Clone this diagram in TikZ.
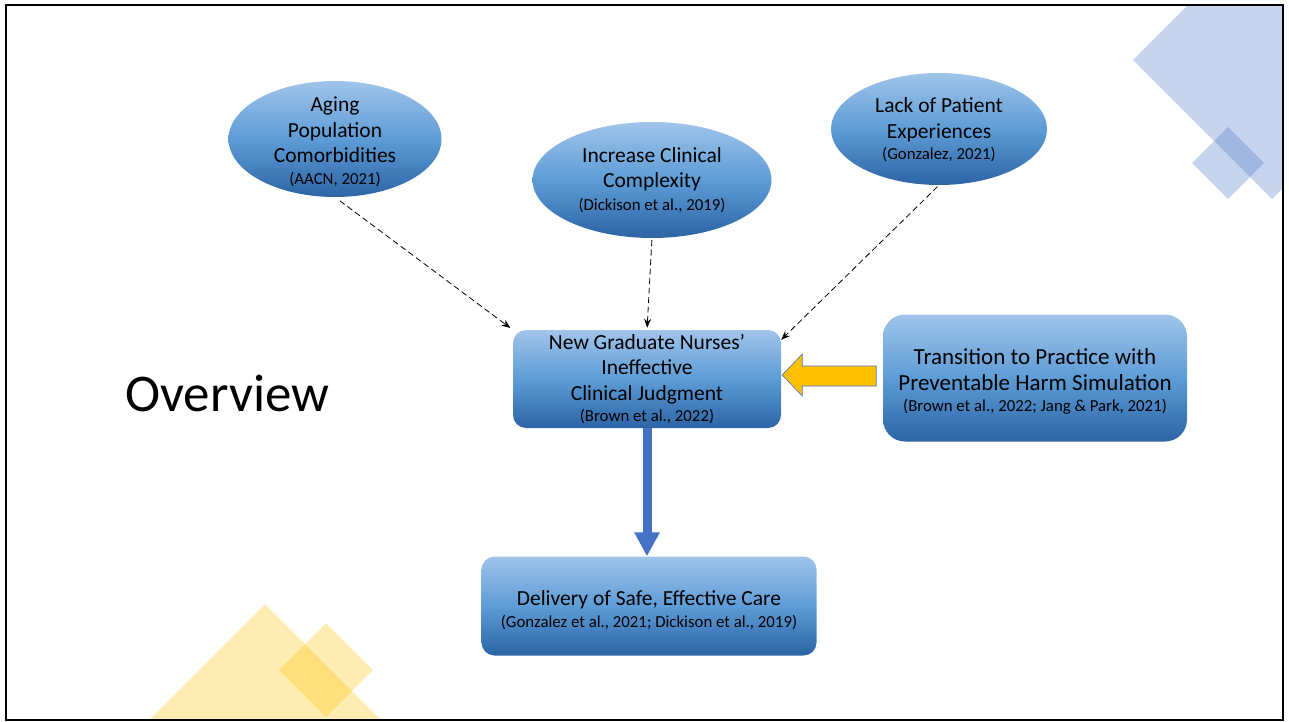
\documentclass[tikz,border=0pt]{standalone}
\usepackage{fontspec}
\setmainfont{Carlito}
\usetikzlibrary{shapes.geometric,arrows.meta,calc}

\definecolor{boxtop}{RGB}{160,196,234}
\definecolor{boxmid}{RGB}{93,156,214}
\definecolor{boxbot}{RGB}{44,100,165}
\definecolor{accblue}{RGB}{68,114,196}
\definecolor{accgold}{RGB}{255,192,0}
\newcommand{\cit}[1]{{\fontsize{16.8}{18}\selectfont #1}}

\begin{document}
\begin{tikzpicture}[x=1pt,y=-1pt,
    grad/.style={top color=boxtop,bottom color=boxbot,middle color=boxmid},
    bubble/.style={grad,ellipse,inner sep=0pt},
    card/.style={grad,inner sep=0pt,rounded corners=#1},
    card/.default=13pt,
    txt/.style={align=center,font=\fontsize{21.5}{25.5}\selectfont},
    cause/.style={dash pattern=on 6pt off 3.5pt,line width=0.8pt,-{Stealth[length=9pt,width=7pt]}},
  ]
\useasboundingbox (0,0) rectangle (1289,722);

\begin{scope}
  \clip (6,5) rectangle (1283,720);
  \fill[accblue,opacity=0.3] (1133,60) -- (1272,-79) -- (1411,60) -- (1272,199) -- cycle;
  \fill[accblue,opacity=0.3] (1192,163) -- (1228,127) -- (1264,163) -- (1228,199) -- cycle;
  \fill[accgold,opacity=0.3] (149,720) -- (265,604) -- (381,720) -- (265,836) -- cycle;
  \fill[accgold,opacity=0.3] (279,670) -- (326,623) -- (373,670) -- (326,717) -- cycle;
\end{scope}
\draw[line width=2.5pt] (6,5) rectangle (1283,720);

\node[font=\fontsize{53}{60}\selectfont,anchor=west,inner sep=0pt] (title) at (125,393) {Overview};

\node[bubble,minimum width=213pt,minimum height=116pt,
  label={[txt,yshift=-3pt]center:{Aging\\Population\\Comorbidities\\[-4pt]\cit{(AACN, 2021)}}}] (aging) at (335,139) {};
\node[bubble,minimum width=239pt,minimum height=116pt,
  label={[txt]center:{Increase Clinical\\Complexity\\[-3pt]\cit{(Dickison et al., 2019)}}}] (incr) at (652,180) {};
\node[bubble,minimum width=216pt,minimum height=112pt,
  label={[txt,yshift=-1pt]center:{Lack of Patient\\Experiences\\[-4pt]\cit{(Gonzalez, 2021)}}}] (lack) at (939,129) {};

\node[card,txt,minimum width=268pt,minimum height=98pt] (ngn) at (647,379)
  {New Graduate Nurses'\\Ineffective\\Clinical Judgment\\[-4pt]\cit{(Brown et al., 2022)}};
\node[card=22pt,minimum width=304pt,minimum height=127pt,
  label={[txt,font=\fontsize{23}{26}\selectfont,yshift=-3pt]center:{Transition to Practice with\\Preventable Harm Simulation\\[-5pt]\cit{(Brown et al., 2022; Jang \& Park, 2021)}}}] (trans) at (1035,378) {};
\node[card,minimum width=335pt,minimum height=99pt,
  label={[txt,yshift=-4pt]center:{Delivery of Safe, Effective Care\\[-4pt]\cit{(Gonzalez et al., 2021; Dickison et al., 2019)}}}] (del) at (649,606) {};

\draw[cause,shorten <=6pt,shorten >=3pt] (aging.south) -- (ngn.north west);
\draw[cause,shorten <=2pt,shorten >=2pt] (incr.south) -- (ngn.north);
\draw[cause,shorten <=2pt] (lack.south) -- ([yshift=-10pt]ngn.north east);

\draw[accblue,line width=9pt,-{Triangle[length=24pt,width=24pt]}] (ngn.south) -- (ngn.south |- del.north);

\draw[accblue,fill=accgold,line width=0.6pt] ([xshift=1pt,yshift=4pt]ngn.east) -- ++(20,-21) -- ++(0,12)
  -- ++(74,0) -- ++(0,20) -- ++(-74,0) -- ++(0,10) -- cycle;
\end{tikzpicture}
\end{document}
